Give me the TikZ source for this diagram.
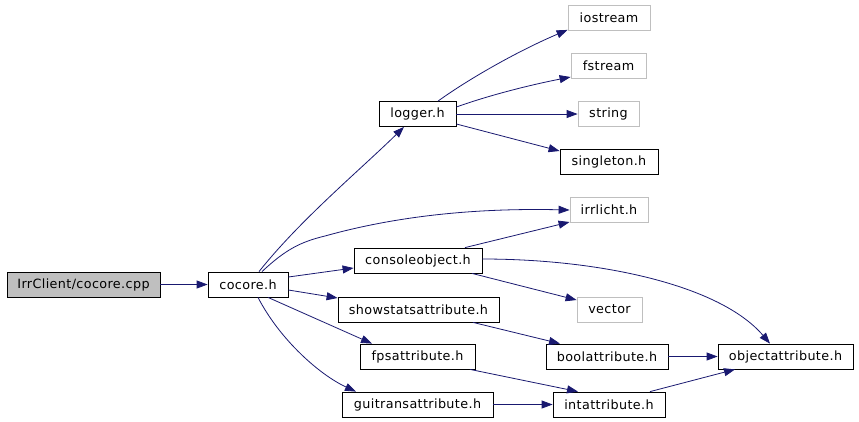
\documentclass[tikz,border=0pt]{standalone}
\usepackage{fontspec}
\setmainfont{DejaVu Sans}[LetterSpace=3]
\usetikzlibrary{arrows.meta}
\definecolor{edgeblue}{HTML}{191970}
\definecolor{graybord}{HTML}{BFBFBF}
\begin{document}
\begin{tikzpicture}[x=1bp,y=-1bp,
  box/.style={draw=black,line width=0.8bp,fill=white,minimum height=25bp,inner sep=0pt,
    font=\fontsize{12.8}{14}\selectfont},
  extbox/.style={box,draw=graybord},
  edge/.style={draw=edgeblue,line width=0.8bp,-{Triangle[length=11bp,width=8bp]}}]
\useasboundingbox (0,0) rectangle (859,421);
\node[box,fill=graybord,minimum width=153bp] (cpp) at (83.5,284.5) {IrrClient/cocore.cpp};
\node[box,minimum width=80bp] (cocore) at (248,284.5) {cocore.h};
\node[box,minimum width=77bp] (logger) at (417.5,114) {logger.h};
\node[extbox,minimum width=82bp] (iostream) at (609,18) {iostream};
\node[extbox,minimum width=75bp] (fstream) at (608.5,66) {fstream};
\node[extbox,minimum width=61bp] (string) at (608.5,114) {string};
\node[box,minimum width=98bp] (singleton) at (609,162) {singleton.h};
\node[extbox,minimum width=78bp] (irrlicht) at (609,210) {irrlicht.h};
\node[box,minimum width=128bp] (console) at (418,260.5) {consoleobject.h};
\node[extbox,minimum width=65bp] (vector) at (609.5,309.5) {vector};
\node[box,minimum width=161bp] (showstats) at (418.5,309.5) {showstatsattribute.h};
\node[box,minimum width=115bp] (fps) at (417.5,356.5) {fpsattribute.h};
\node[box,minimum width=151bp] (guitrans) at (417.5,404.5) {guitransattribute.h};
\node[box,minimum width=122bp] (bool) at (607,356.5) {boolattribute.h};
\node[box,minimum width=112bp] (int) at (609,404.5) {intattribute.h};
\node[box,minimum width=135bp] (object) at (785.5,356.5) {objectattribute.h};

\draw[edge] (cpp.east) -- (cocore.west);
\draw[edge] ([xshift=11bp]cocore.north) .. controls (300,220) and (360,170) .. ([xshift=-13.5bp]logger.south);
\draw[edge] ([xshift=14bp]cocore.north) .. controls (285,250) and (300,242) .. (325,236)
   .. controls (400,215) and (480,208) .. (irrlicht.west);
\draw[edge] ([yshift=7.5bp]cocore.east) -- ([yshift=-7.5bp]console.west);
\draw[edge] ([yshift=-5.5bp]cocore.east) -- ([yshift=11.5bp]showstats.west);
\draw[edge] ([xshift=20bp]cocore.south) -- ([xshift=-45.5bp]fps.north);
\draw[edge] ([xshift=10bp]cocore.south) .. controls (280,340) and (320,375) .. ([xshift=-61.5bp]guitrans.north);
\draw[edge] ([xshift=20.5bp]logger.north) .. controls (470,78) and (520,50) .. ([yshift=1bp]iostream.south west);
\draw[edge] ([yshift=7bp]logger.east) .. controls (490,95) and (530,85) .. ([yshift=-11bp]fstream.west);
\draw[edge] (logger.east) -- (string.west);
\draw[edge] ([yshift=-10bp]logger.east) -- ([yshift=11bp]singleton.west);
\draw[edge] ([xshift=47bp]console.north) -- ([yshift=-12bp]irrlicht.west);
\draw[edge] ([xshift=54bp]console.south) -- ([yshift=9.5bp]vector.west);
\draw[edge] ([yshift=1.5bp]console.east) .. controls (600,259) and (720,285) .. ([xshift=-15.5bp]object.north);
\draw[edge] ([xshift=54.5bp]showstats.south) -- ([xshift=-47bp]bool.north);
\draw[edge] (bool.east) -- (object.west);
\draw[edge] ([xshift=52.5bp]fps.south) -- ([xshift=-31bp]int.north);
\draw[edge] (guitrans.east) -- (int.west);
\draw[edge] ([xshift=41bp]int.north) -- ([xshift=-50.5bp]object.south);
\end{tikzpicture}
\end{document}
